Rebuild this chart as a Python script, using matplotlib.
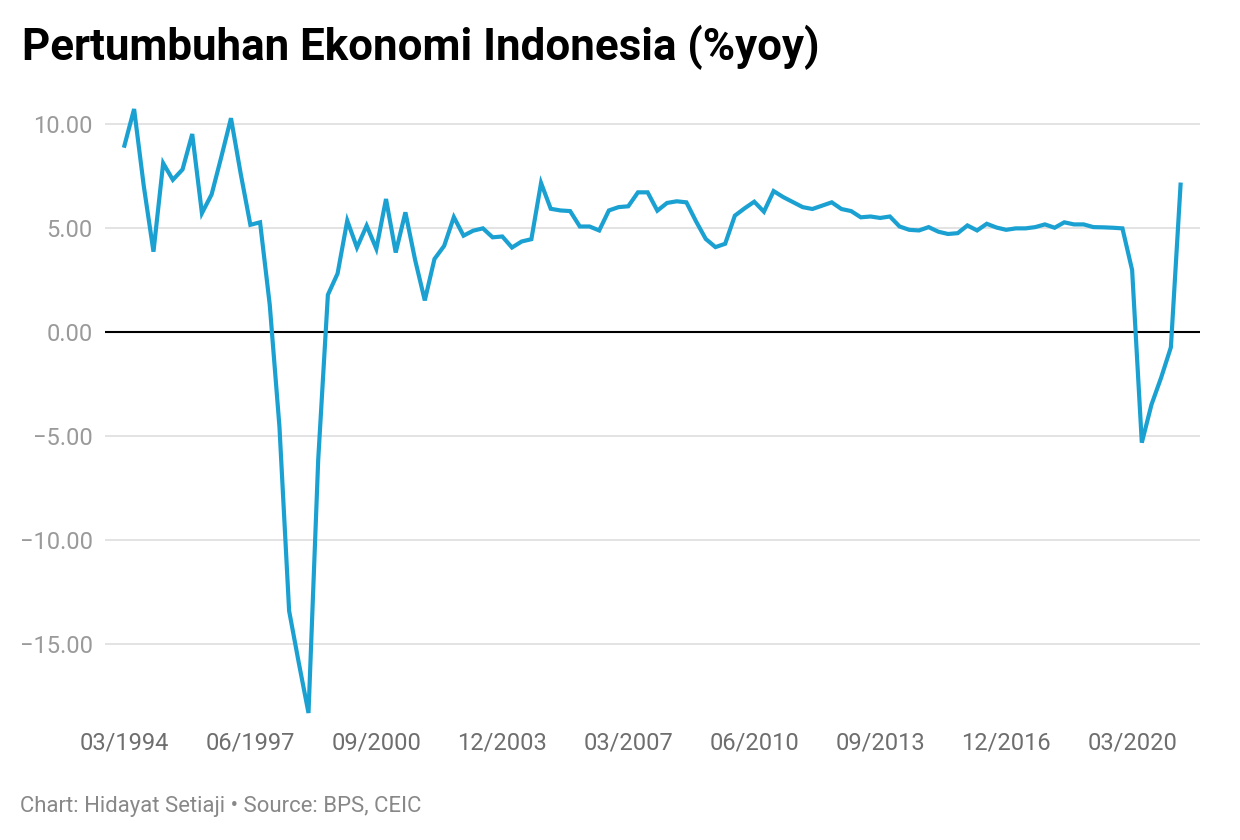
import matplotlib
matplotlib.use('Agg')
import matplotlib.pyplot as plt

# quarterly GDP growth, %yoy, Q1 1994 .. Q2 2021
growth = [
    8.94, 10.70, 7.00, 3.85, 8.10, 7.30, 7.80, 9.50, 5.70, 6.60,
    8.40, 10.26, 7.60, 5.14, 5.26, 1.30, -4.55, -13.40, -15.90, -18.30,
    -6.15, 1.78, 2.80, 5.34, 4.05, 5.10, 3.99, 6.38, 3.81, 5.74,
    3.46, 1.51, 3.50, 4.13, 5.51, 4.62, 4.86, 4.97, 4.54, 4.58,
    4.05, 4.34, 4.45, 7.15, 5.91, 5.83, 5.80, 5.06, 5.06, 4.87,
    5.83, 5.99, 6.03, 6.70, 6.70, 5.82, 6.19, 6.27, 6.22, 5.30,
    4.46, 4.07, 4.23, 5.58, 5.93, 6.25, 5.77, 6.76, 6.47, 6.23,
    5.99, 5.90, 6.06, 6.22, 5.90, 5.80, 5.50, 5.54, 5.47, 5.54,
    5.06, 4.90, 4.87, 5.03, 4.81, 4.70, 4.74, 5.11, 4.87, 5.19,
    5.01, 4.90, 4.97, 4.97, 5.03, 5.16, 5.00, 5.26, 5.16, 5.16,
    5.03, 5.02, 5.00, 4.97, 2.97, -5.32, -3.49, -2.19, -0.74, 7.07,
]
quarters = list(range(len(growth)))

tick_pos = [0, 13, 26, 39, 52, 65, 78, 91, 104]
tick_labels = ["03/1994", "06/1997", "09/2000", "12/2003", "03/2007",
               "06/2010", "09/2013", "12/2016", "03/2020"]
y_ticks = [10, 5, 0, -5, -10, -15]

plt.rcParams['font.family'] = ['Roboto', 'DejaVu Sans']

fig = plt.figure(figsize=(12.4, 8.4), dpi=100)
ax = fig.add_axes([0.0847, 0.1512, 0.883, 0.719])

for v in y_ticks:
    if v == 0:
        ax.axhline(0, color='black', lw=1.5, zorder=2)
    else:
        ax.axhline(v, color='#e0e0e0', lw=1.3, zorder=1)

ax.plot(quarters, growth, color='#1ba1d1', lw=3, zorder=3,
        solid_joinstyle='miter', clip_on=False)

ax.set_xlim(-2, 111)
ax.set_ylim(min(growth), max(growth))
ax.set_xticks(tick_pos)
ax.set_xticklabels(tick_labels)
ax.set_yticks(y_ticks)
ax.set_yticklabels(["{:.2f}".format(v).replace('-', '\u2212') for v in y_ticks])

ax.tick_params(axis='x', length=0, pad=13, labelsize=17, labelcolor='#6e6e6e')
ax.tick_params(axis='y', length=0, pad=9, labelsize=17, labelcolor='#9a9a9a')
for s in ax.spines.values():
    s.set_visible(False)

fig.text(0.018, 0.929, "Pertumbuhan Ekonomi Indonesia (%yoy)", fontsize=31.6,
         fontweight='bold', color='black', va='baseline', ha='left')
fig.text(0.016, 0.040, "Chart: Hidayat Setiaji \u2022 Source: BPS, CEIC",
         fontsize=15.9, color='#888888', va='center', ha='left')

plt.savefig("out.png", dpi=100)
